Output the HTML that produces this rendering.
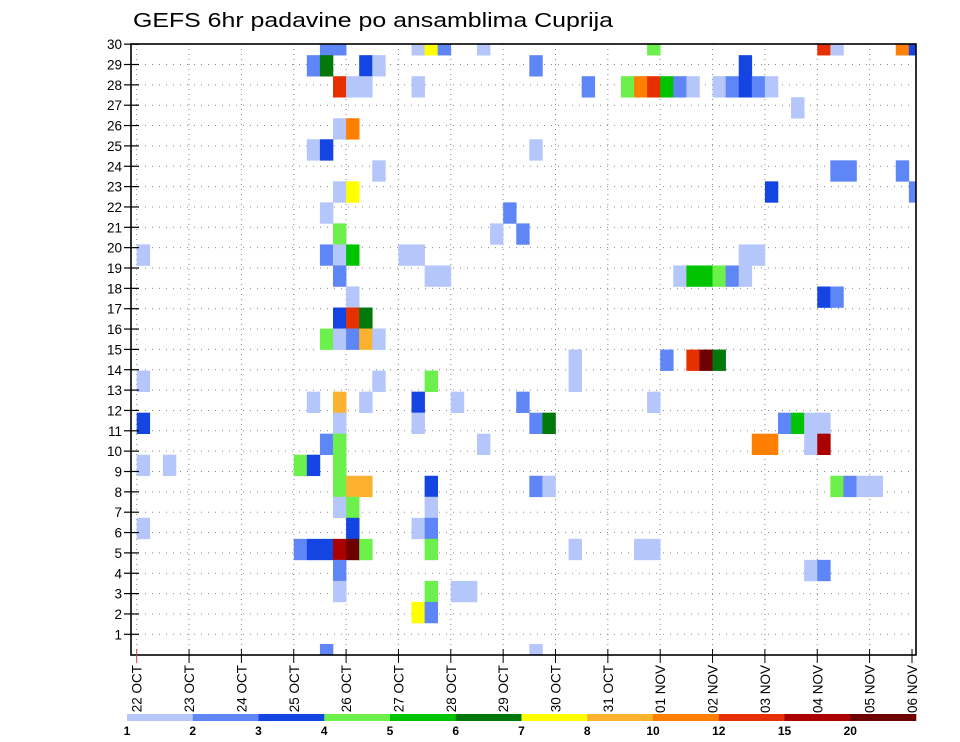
<!DOCTYPE html>
<html><head><meta charset="utf-8">
<style>
html,body{margin:0;padding:0;background:#fff;}
svg{display:block;font-family:"Liberation Sans",sans-serif;}
</style></head>
<body>
<svg id="chart" width="960" height="742" viewBox="0 0 960 742" xmlns="http://www.w3.org/2000/svg">
<defs><clipPath id="plotclip"><rect x="131" y="44" width="785" height="611"/></clipPath></defs>
<text x="133" y="27" font-size="20" textLength="480" lengthAdjust="spacingAndGlyphs" fill="#000">GEFS 6hr padavine po ansamblima Cuprija</text>
<g id="grid"></g>
<g id="cells" clip-path="url(#plotclip)"></g>
<rect x="131" y="44" width="785" height="611" fill="none" stroke="#000" stroke-width="1.6"/>
<g id="axes"></g>
<g id="legend"></g>
</svg>
<script>
// categories
const dayLabels = ["22 OCT","23 OCT","24 OCT","25 OCT","26 OCT","27 OCT","28 OCT","29 OCT","30 OCT","31 OCT","01 NOV","02 NOV","03 NOV","04 NOV","05 NOV","06 NOV"];
const memberLabels = ["1","2","3","4","5","6","7","8","9","10","11","12","13","14","15","16","17","18","19","20","21","22","23","24","25","26","27","28","29","30"];
// legend levels
const levelLabels = ["1","2","3","4","5","6","7","8","10","12","15","20"];
const levelBounds = [1,2,3,4,5,6,7,8,10,12,15,20];
const levelColors = ["#b4c6fa","#5f86f7","#1444e2","#6cf04c","#00c400","#00780a","#ffff00","#fdb22f","#ff7f00","#e63000","#aa0000","#6e0000"];
// data: 6-hour step index, member index, precipitation (mm)
const cellStep = [
14,15,21,22,23,26,39,52,53,58,59,
13,14,17,18,30,46,
15,16,17,21,34,37,38,39,40,41,42,44,45,46,47,48,
50,
15,16,
13,14,30,
18,53,54,58,
15,16,48,59,
14,28,
15,27,29,
0,14,15,16,20,21,46,47,
15,22,23,41,42,43,44,45,46,
16,52,53,
15,16,17,
14,15,16,17,18,
33,40,42,43,44,
0,18,22,33,
13,15,17,21,24,29,39,
0,15,21,30,31,49,50,51,52,
14,15,26,47,48,51,52,
0,2,12,13,15,
15,16,17,22,30,31,53,54,55,56,
15,16,22,
0,16,21,22,
12,13,14,15,16,17,22,33,38,39,
15,51,52,
15,22,24,25,
21,22,
14,30];
const cellMember = [
29,29,29,29,29,29,29,29,29,29,29,
28,28,28,28,28,28,
27,27,27,27,27,27,27,27,27,27,27,27,27,27,27,27,
26,
25,25,
24,24,24,
23,23,23,23,
22,22,22,22,
21,21,
20,20,20,
19,19,19,19,19,19,19,19,
18,18,18,18,18,18,18,18,18,
17,17,17,
16,16,16,
15,15,15,15,15,
14,14,14,14,14,
13,13,13,13,
12,12,12,12,12,12,12,
11,11,11,11,11,11,11,11,11,
10,10,10,10,10,10,10,
9,9,9,9,9,
8,8,8,8,8,8,8,8,8,8,
7,7,7,
6,6,6,6,
5,5,5,5,5,5,5,5,5,5,
4,4,4,
3,3,3,3,
2,2,
0,0];
const cellValue = [
2.5,2.5,1.5,7.5,2.5,1.5,4.5,13.5,1.5,11,3.5,
2.5,6.5,3.5,1.5,2.5,3.5,
13.5,1.5,1.5,1.5,2.5,4.5,11,13.5,5.5,2.5,1.5,1.5,2.5,3.5,2.5,1.5,
1.5,
1.5,11,
1.5,3.5,1.5,
1.5,2.5,2.5,2.5,
1.5,7.5,3.5,2.5,
1.5,2.5,
4.5,1.5,2.5,
1.5,2.5,1.5,5.5,1.5,1.5,1.5,1.5,
2.5,1.5,1.5,1.5,5.5,5.5,4.5,2.5,1.5,
1.5,3.5,2.5,
3.5,13.5,6.5,
4.5,1.5,2.5,9,1.5,
1.5,2.5,13.5,22,6.5,
1.5,1.5,4.5,1.5,
1.5,9,1.5,3.5,1.5,2.5,1.5,
3.5,1.5,1.5,2.5,6.5,2.5,5.5,1.5,1.5,
2.5,4.5,1.5,11,11,1.5,17.5,
1.5,1.5,4.5,3.5,4.5,
4.5,9,9,3.5,2.5,1.5,4.5,2.5,1.5,1.5,
1.5,4.5,1.5,
1.5,3.5,1.5,2.5,
2.5,3.5,3.5,17.5,22,4.5,4.5,1.5,1.5,1.5,
2.5,1.5,2.5,
1.5,4.5,1.5,1.5,
7.5,2.5,
2.5,1.5];

const NS="http://www.w3.org/2000/svg";
const X0=136.7, DAY=52.35, STEP=DAY/4;
const CELL_BOTTOM_TOP=644, CELL_H=21.03;
const ROW1=634.3, ROWSP=20.35;
function xStep(i){return X0+i*STEP;}
function xDay(d){return X0+d*DAY;}
function yCellTop(k){return CELL_BOTTOM_TOP-k*CELL_H;}
function yLabel(r){return ROW1-(r-1)*ROWSP;}
function colorFor(v){let c=null;for(let j=0;j<levelBounds.length;j++){if(v>=levelBounds[j])c=levelColors[j];}return c;}
function mk(tag,attrs,parent){const e=document.createElementNS(NS,tag);for(const a in attrs)e.setAttribute(a,attrs[a]);parent.appendChild(e);return e;}

const grid=document.getElementById('grid');
for(let d=0;d<dayLabels.length;d++){
  const x=xDay(d); if(x>916) continue;
  const l=mk('line',{x1:x,y1:44,x2:x,y2:655,stroke:'#888','stroke-width':1,'stroke-dasharray':'1 4'},grid);
  
  
}
for(let r=1;r<memberLabels.length;r++){
  const y=yLabel(r);
  const l=mk('line',{x1:131,y1:y,x2:916,y2:y,stroke:'#888','stroke-width':1,'stroke-dasharray':'1 6'},grid);
  
  
}

const cells=document.getElementById('cells');
for(let n=0;n<cellValue.length;n++){
  const c=colorFor(cellValue[n]); if(!c) continue;
  const r=mk('rect',{x:xStep(cellStep[n]),y:yCellTop(cellMember[n]),width:STEP+0.3,height:CELL_H+0.3,fill:c},cells);
  
  
}

const axes=document.getElementById('axes');
for(let r=1;r<=memberLabels.length;r++){
  const y=yLabel(r);
  const t=mk('line',{x1:124,y1:y,x2:139,y2:y,stroke:'#000','stroke-width':1.2},axes);
  
  
  const tx=mk('text',{x:122,y:y+5,'font-size':13.5,'text-anchor':'end',fill:'#000'},axes);
  tx.textContent=memberLabels[r-1];
  
  
}
for(let d=0;d<dayLabels.length;d++){
  let x=xDay(d); if(x>916) x=912;
  const t=mk('line',{x1:x,y1:649,x2:x,y2:663,stroke:d===0?'#d04040':'#000','stroke-width':1},axes);
  
  
  const tx=mk('text',{x:0,y:0,'font-size':13.5,'text-anchor':'end',fill:'#000',transform:'translate('+(x+5)+',665) rotate(-90)'},axes);
  tx.textContent=dayLabels[d];
  
  
}

const legend=document.getElementById('legend');
const LX=127, LW=(916-127)/levelColors.length;
for(let j=0;j<levelColors.length;j++){
  const r=mk('rect',{x:LX+j*LW,y:714,width:LW+0.3,height:7,fill:levelColors[j]},legend);
  
  
  const tx=mk('text',{x:LX+j*LW,y:735,'font-size':12,'font-weight':'bold','text-anchor':'middle',fill:'#000'},legend);
  tx.textContent=levelLabels[j];
  
  
}
</script>
</body></html>
